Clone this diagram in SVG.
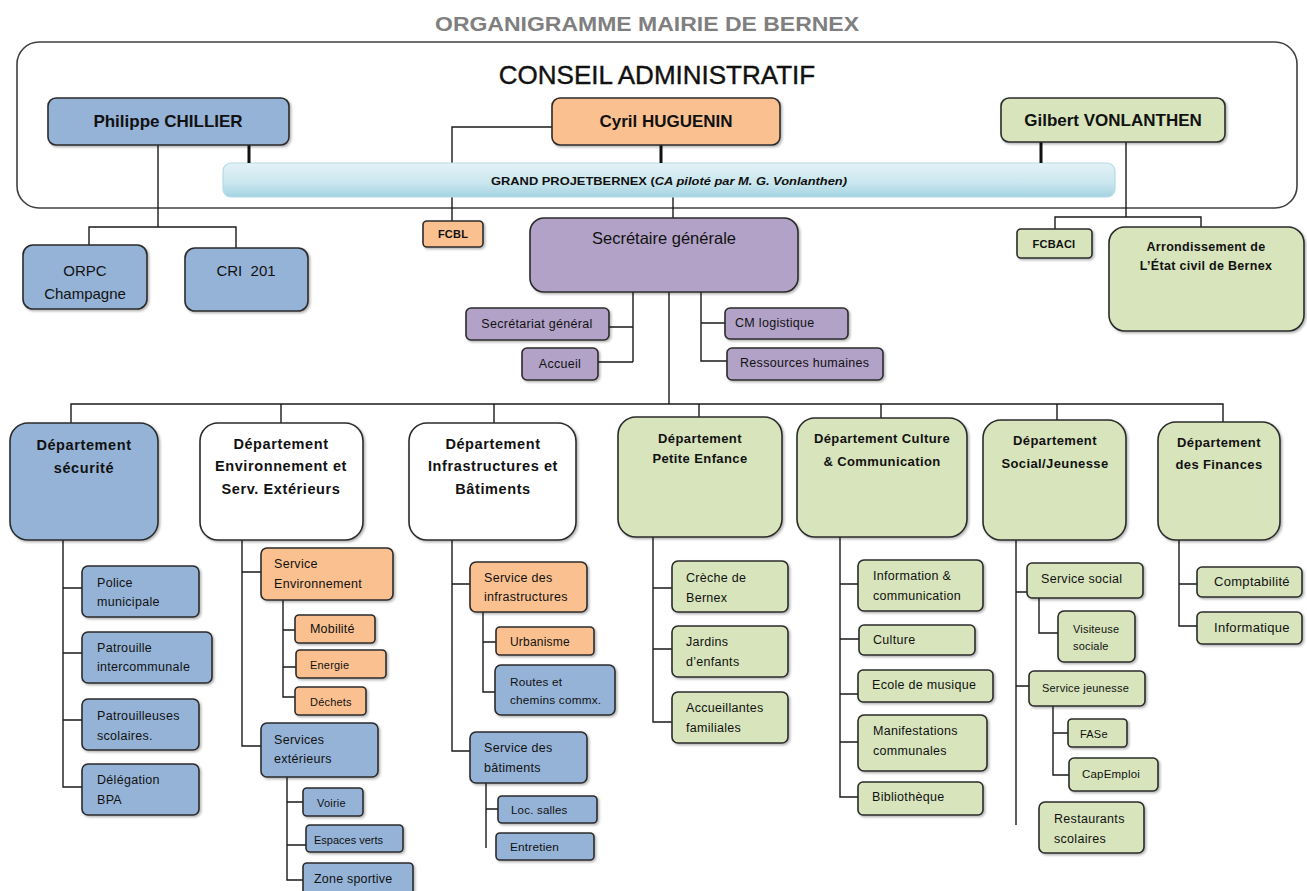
<svg xmlns="http://www.w3.org/2000/svg" width="1307" height="891" viewBox="0 0 1307 891">
<defs>
<style>
.bx{stroke:#2b2b2b;stroke-width:1.6;filter:url(#sh)}
.blue{fill:#95b3d7}.orange{fill:#fac090}.green{fill:#d7e4bc}.purple{fill:#b2a2c7}.white{fill:#ffffff}
text{font-family:"Liberation Sans",Arial,sans-serif;fill:#111;dominant-baseline:central}
.t{font-size:12.5px;letter-spacing:0.3px}
.ts{font-size:11px;letter-spacing:0.2px}
.c{text-anchor:middle}
.b{font-weight:bold}
.d1{font-size:14.5px;font-weight:bold;text-anchor:middle;letter-spacing:0.6px}
.d2{font-size:13px;font-weight:bold;text-anchor:middle;letter-spacing:0.4px}
.nm{font-size:17px;font-weight:bold;text-anchor:middle}
.ln{fill:none;stroke:#1a1a1a;stroke-width:1.4}
.thick{fill:none;stroke:#111;stroke-width:3}
</style>
<filter id="sh" x="-10%" y="-10%" width="130%" height="130%">
<feDropShadow dx="1.5" dy="1.5" stdDeviation="1" flood-color="#000" flood-opacity="0.3"/>
</filter>
<linearGradient id="gp" x1="0" y1="0" x2="0" y2="1">
<stop offset="0" stop-color="#e3f2f6"/>
<stop offset="0.6" stop-color="#c9e6ee"/>
<stop offset="1" stop-color="#a3d3e1"/>
</linearGradient>
</defs>
<rect width="1307" height="891" fill="#ffffff"/>
<text x="647" y="24" style="font-size:20px;font-weight:bold;fill:#7f7f7f;text-anchor:middle" textLength="424" lengthAdjust="spacingAndGlyphs">ORGANIGRAMME MAIRIE DE BERNEX</text>
<g id="conseil">
<rect x="17" y="42" width="1280" height="166" rx="22" fill="none" stroke="#404040" stroke-width="1.6"/>
<text x="657" y="75" style="font-size:26px;text-anchor:middle;stroke:#111;stroke-width:0.4">CONSEIL ADMINISTRATIF</text>
</g>
<g id="connectors">
<path class="ln" d="M158,145V227M89,245V227H236V248"/>
<path class="ln" d="M552,127H452V221"/>
<path class="ln" d="M673,197V218"/>
<path class="ln" d="M1126,142V217M1055,229V217H1201V227"/>
<path class="ln" d="M633,292V362M609,327H633M598,362H633"/>
<path class="ln" d="M701,292V361H727M701,323H725"/>
<path class="ln" d="M669,292V404M71,423V404H1223V422M281,404V423M494,404V423M699,404V417M881,404V418M1057,404V420"/>
<path class="ln" d="M63,540V787H82M63,588H82M63,653H82M63,720H82"/>
<path class="ln" d="M242,540V746H261M242,572H261M283,600V697H295M283,630H295M283,667H296M287,777V880H303M287,802H303M287,845H306"/>
<path class="ln" d="M452,540V751H470M452,584H470M483,612V692H495M483,642H496M486,783V848M486,809H498"/>
<path class="ln" d="M653,537V722H672M653,588H672M653,649H672"/>
<path class="ln" d="M840,537V797H858M840,584H858M840,639H859M840,694H858M840,742H858"/>
<path class="ln" d="M1016,540V825M1016,592H1027M1016,686H1029M1039,598V633H1058M1053,706V775H1069M1053,733H1068"/>
<path class="ln" d="M1179,540V626H1197M1179,584H1197"/>
</g>
<g id="grand-projet">
<rect x="223" y="163" width="892" height="34" rx="8" fill="url(#gp)" stroke="#b5dbe6" stroke-width="1.2"/>
<text x="669" y="181" style="font-size:11px;font-weight:bold;text-anchor:middle" textLength="356" lengthAdjust="spacingAndGlyphs">GRAND PROJETBERNEX (<tspan font-style="italic">CA piloté par M. G. Vonlanthen)</tspan></text>
</g>
<g id="stubs">
<path class="thick" d="M249,145V163M661,145V163M1041,142V163"/>
</g>
<g id="philippe"><rect class="bx blue" x="48" y="98" width="241" height="47" rx="8"/><text class="nm" x="168" y="121">Philippe CHILLIER</text></g>
<g id="cyril"><rect class="bx orange" x="552" y="98" width="228" height="47" rx="8"/><text class="nm" x="666" y="121">Cyril HUGUENIN</text></g>
<g id="gilbert"><rect class="bx green" x="1001" y="98" width="224" height="44" rx="8"/><text class="nm" x="1113" y="120">Gilbert VONLANTHEN</text></g>
<g id="orpc"><rect class="bx blue" x="23" y="245" width="124" height="64" rx="10"/><text x="85" y="270" class="c" style="font-size:15px">ORPC</text><text x="85" y="293" class="c" style="font-size:15px">Champagne</text></g>
<g id="cri"><rect class="bx blue" x="185" y="248" width="123" height="63" rx="10"/><text x="246" y="270" class="c" style="font-size:15px" xml:space="preserve">CRI  201</text></g>
<g id="fcbl"><rect class="bx orange" x="423" y="221" width="60" height="26" rx="4"/><text x="453" y="234" class="c b ts">FCBL</text></g>
<g id="secretaire"><rect class="bx purple" x="530" y="218" width="268" height="74" rx="14"/><text x="664" y="238" class="c" style="font-size:16.5px">Secrétaire générale</text></g>
<g id="secretariat"><rect class="bx purple" x="466" y="308" width="143" height="32" rx="5"/><text x="537" y="324" class="c t">Secrétariat général</text></g>
<g id="accueil"><rect class="bx purple" x="522" y="348" width="76" height="32" rx="5"/><text x="560" y="364" class="c t">Accueil</text></g>
<g id="cm"><rect class="bx purple" x="725" y="308" width="123" height="31" rx="5"/><text x="735" y="323" class="t">CM logistique</text></g>
<g id="rh"><rect class="bx purple" x="727" y="348" width="156" height="32" rx="5"/><text x="740" y="363" class="t">Ressources humaines</text></g>
<g id="fcbaci"><rect class="bx green" x="1017" y="229" width="75" height="29" rx="4"/><text x="1054" y="244" class="c b ts">FCBACI</text></g>
<g id="arrondissement"><rect class="bx green" x="1109" y="227" width="195" height="104" rx="16"/><text x="1206" y="247" class="c b t">Arrondissement de</text><text x="1206" y="266" class="c b t">L’État civil de Bernex</text></g>
<g id="dep-securite"><rect class="bx blue" x="10" y="423" width="148" height="117" rx="18"/><text x="84" y="445" class="d1">Département</text><text x="84" y="468" class="d1">sécurité</text></g>
<g id="dep-env"><rect class="bx white" x="200" y="423" width="163" height="117" rx="18"/><text x="281" y="444" class="d1">Département</text><text x="281" y="466" class="d1">Environnement et</text><text x="281" y="489" class="d1">Serv. Extérieurs</text></g>
<g id="dep-infra"><rect class="bx white" x="409" y="423" width="167" height="117" rx="18"/><text x="493" y="444" class="d1">Département</text><text x="493" y="466" class="d1">Infrastructures et</text><text x="493" y="489" class="d1">Bâtiments</text></g>
<g id="dep-petite"><rect class="bx green" x="618" y="417" width="164" height="120" rx="18"/><text x="700" y="438" class="d2">Département</text><text x="700" y="458" class="d2">Petite Enfance</text></g>
<g id="dep-culture"><rect class="bx green" x="797" y="418" width="170" height="119" rx="18"/><text x="882" y="438" class="d2">Département Culture</text><text x="882" y="461" class="d2">&amp; Communication</text></g>
<g id="dep-social"><rect class="bx green" x="983" y="420" width="143" height="120" rx="18"/><text x="1055" y="440" class="d2">Département</text><text x="1055" y="463" class="d2">Social/Jeunesse</text></g>
<g id="dep-finances"><rect class="bx green" x="1158" y="422" width="122" height="118" rx="18"/><text x="1219" y="442" class="d2">Département</text><text x="1219" y="464" class="d2">des Finances</text></g>
<g id="police"><rect class="bx blue" x="82" y="566" width="117" height="51" rx="6"/><text x="97" y="583" class="t">Police</text><text x="97" y="602" class="t">municipale</text></g>
<g id="patrouille"><rect class="bx blue" x="82" y="632" width="130" height="51" rx="6"/><text x="97" y="648" class="t">Patrouille</text><text x="97" y="667" class="t">intercommunale</text></g>
<g id="patrouilleuses"><rect class="bx blue" x="82" y="699" width="117" height="51" rx="6"/><text x="97" y="716" class="t">Patrouilleuses</text><text x="97" y="736" class="t">scolaires.</text></g>
<g id="delegation"><rect class="bx blue" x="82" y="764" width="117" height="51" rx="6"/><text x="97" y="780" class="t">Délégation</text><text x="97" y="800" class="t">BPA</text></g>
<g id="service-env"><rect class="bx orange" x="261" y="548" width="132" height="52" rx="6"/><text x="274" y="564" class="t">Service</text><text x="274" y="584" class="t">Environnement</text></g>
<g id="mobilite"><rect class="bx orange" x="295" y="615" width="80" height="28" rx="4"/><text x="310" y="629" class="ts" style="font-size:12.5px">Mobilité</text></g>
<g id="energie"><rect class="bx orange" x="296" y="650" width="90" height="28" rx="4"/><text x="310" y="665" class="ts">Energie</text></g>
<g id="dechets"><rect class="bx orange" x="295" y="687" width="71" height="28" rx="4"/><text x="310" y="702" class="ts">Déchets</text></g>
<g id="services-ext"><rect class="bx blue" x="261" y="723" width="117" height="54" rx="6"/><text x="274" y="740" class="t">Services</text><text x="274" y="759" class="t">extérieurs</text></g>
<g id="voirie"><rect class="bx blue" x="303" y="788" width="60" height="28" rx="4"/><text x="317" y="803" class="ts">Voirie</text></g>
<g id="espaces"><rect class="bx blue" x="306" y="825" width="97" height="27" rx="4"/><text x="314" y="840" class="ts" style="letter-spacing:0px">Espaces verts</text></g>
<g id="zone"><rect class="bx blue" x="303" y="863" width="110" height="34" rx="4"/><text x="314" y="879" class="ts" style="font-size:12.5px">Zone sportive</text></g>
<g id="service-infra"><rect class="bx orange" x="470" y="562" width="117" height="50" rx="6"/><text x="484" y="578" class="t">Service des</text><text x="484" y="597" class="t">infrastructures</text></g>
<g id="urbanisme"><rect class="bx orange" x="496" y="627" width="98" height="28" rx="4"/><text x="510" y="642" class="ts" style="font-size:12px">Urbanisme</text></g>
<g id="routes"><rect class="bx blue" x="495" y="665" width="120" height="50" rx="6"/><text x="510" y="682" class="ts" style="font-size:11.8px">Routes et</text><text x="510" y="700" class="ts" style="font-size:11.8px">chemins commx.</text></g>
<g id="service-bat"><rect class="bx blue" x="470" y="732" width="117" height="51" rx="6"/><text x="484" y="748" class="t">Service des</text><text x="484" y="768" class="t">bâtiments</text></g>
<g id="loc"><rect class="bx blue" x="498" y="796" width="99" height="27" rx="4"/><text x="511" y="810" class="ts" style="font-size:11.5px">Loc. salles</text></g>
<g id="entretien"><rect class="bx blue" x="496" y="833" width="98" height="27" rx="4"/><text x="510" y="847" class="ts" style="font-size:11.8px">Entretien</text></g>
<g id="creche"><rect class="bx green" x="672" y="561" width="116" height="51" rx="6"/><text x="686" y="578" class="t">Crèche de</text><text x="686" y="598" class="t">Bernex</text></g>
<g id="jardins"><rect class="bx green" x="672" y="626" width="116" height="51" rx="6"/><text x="686" y="642" class="t">Jardins</text><text x="686" y="662" class="t">d’enfants</text></g>
<g id="accueillantes"><rect class="bx green" x="672" y="692" width="116" height="51" rx="6"/><text x="686" y="708" class="t">Accueillantes</text><text x="686" y="728" class="t">familiales</text></g>
<g id="information"><rect class="bx green" x="858" y="560" width="125" height="51" rx="6"/><text x="873" y="576" class="t">Information &amp;</text><text x="873" y="596" class="t">communication</text></g>
<g id="culture"><rect class="bx green" x="859" y="625" width="116" height="30" rx="5"/><text x="873" y="640" class="t">Culture</text></g>
<g id="ecole"><rect class="bx green" x="858" y="670" width="135" height="32" rx="5"/><text x="872" y="685" class="t">Ecole de musique</text></g>
<g id="manifestations"><rect class="bx green" x="858" y="715" width="129" height="56" rx="6"/><text x="873" y="731" class="t">Manifestations</text><text x="873" y="751" class="t">communales</text></g>
<g id="bibliotheque"><rect class="bx green" x="858" y="782" width="125" height="33" rx="5"/><text x="872" y="797" class="t">Bibliothèque</text></g>
<g id="service-social"><rect class="bx green" x="1027" y="563" width="116" height="35" rx="5"/><text x="1041" y="579" class="t">Service social</text></g>
<g id="visiteuse"><rect class="bx green" x="1058" y="611" width="77" height="51" rx="6"/><text x="1073" y="629" class="ts">Visiteuse</text><text x="1073" y="646" class="ts">sociale</text></g>
<g id="service-jeunesse"><rect class="bx green" x="1029" y="671" width="116" height="35" rx="5"/><text x="1042" y="688" class="ts">Service jeunesse</text></g>
<g id="fase"><rect class="bx green" x="1068" y="719" width="59" height="28" rx="4"/><text x="1080" y="734" class="ts">FASe</text></g>
<g id="capemploi"><rect class="bx green" x="1069" y="758" width="89" height="33" rx="5"/><text x="1082" y="774" class="ts" style="font-size:11.5px">CapEmploi</text></g>
<g id="restaurants"><rect class="bx green" x="1039" y="802" width="105" height="51" rx="6"/><text x="1054" y="819" class="t">Restaurants</text><text x="1054" y="839" class="t">scolaires</text></g>
<g id="comptabilite"><rect class="bx green" x="1197" y="567" width="105" height="30" rx="5"/><text x="1214" y="581" class="t" style="font-size:13px">Comptabilité</text></g>
<g id="informatique"><rect class="bx green" x="1197" y="612" width="105" height="32" rx="5"/><text x="1214" y="627" class="t" style="font-size:13px">Informatique</text></g>
</svg>
